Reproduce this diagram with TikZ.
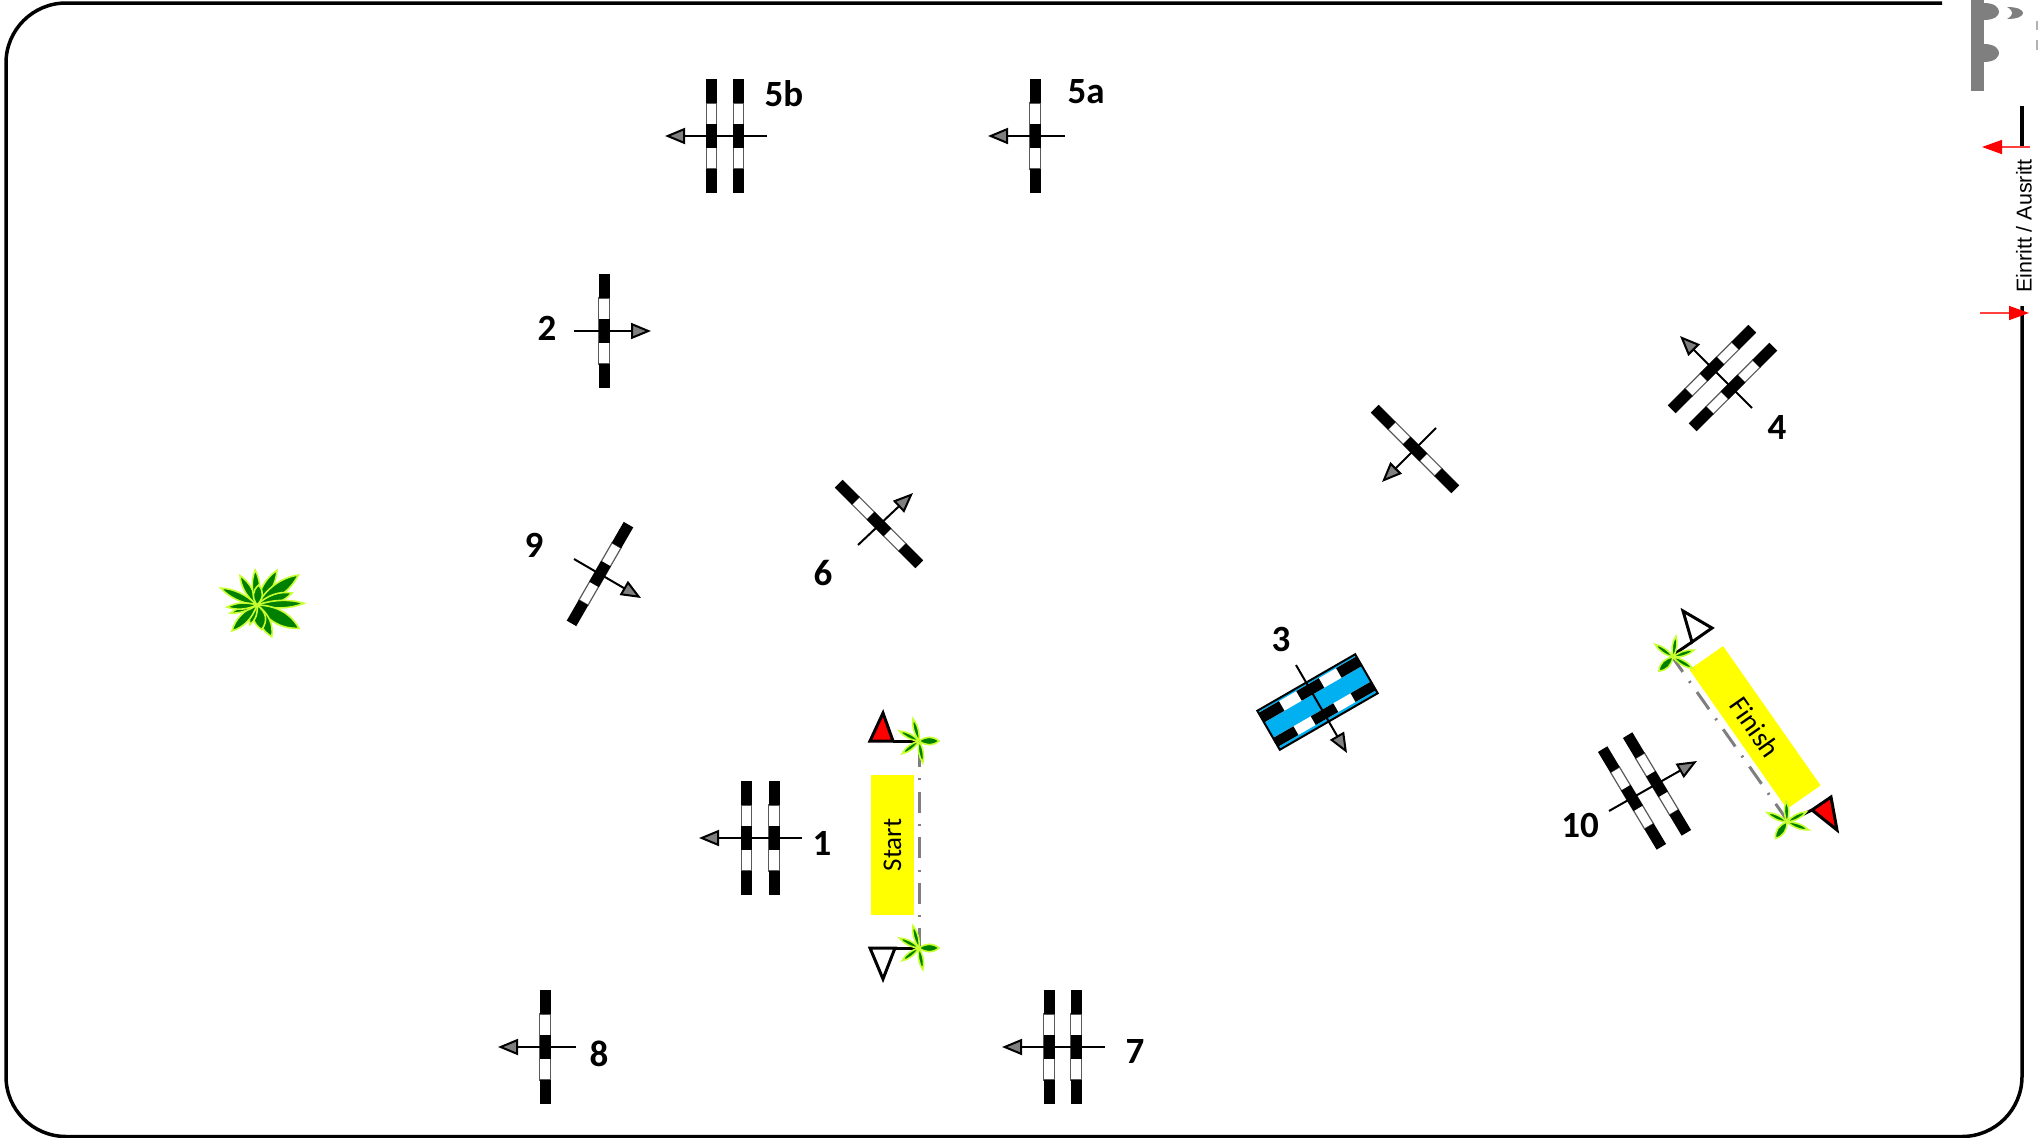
\documentclass[tikz,border=0pt]{standalone}
\usepackage{fontspec}
\setmainfont{Carlito}
\newfontfamily\arialfont{Liberation Sans}
\usetikzlibrary{arrows.meta, positioning, calc}
\definecolor{poolblue}{HTML}{00B0F0}
\definecolor{leafgreen}{HTML}{008000}
\definecolor{leaflime}{HTML}{C8FF30}
\definecolor{marktext}{HTML}{7F7F7F}
\definecolor{bannerfill}{HTML}{FFFF00}
\tikzset{
  pole/.pic={
    \fill[white] (-57,-5.5) rectangle (57,5.5);
    \draw[marktext!70!black, line width=1.2pt] (-33,-5.2) rectangle (33,5.2);
    \foreach \a/\b in {-57/-33, -12/12, 33/57} \fill[black] (\a,-5.5) rectangle (\b,5.5);
  },
  palm/.pic={
    \foreach \ang/\len/\wid in {105/23/3, 153/22/3, 217/21/3, 280/22/3, 0/20/5}
      \draw[leaf, rotate=\ang] (0,0) .. controls (.35*\len,-\wid) and (.7*\len,-\wid) .. (\len,0)
        .. controls (.7*\len,\wid) and (.35*\len,\wid) .. (0,0);
  },
  bush/.pic={
    \foreach \ang/\len/\wid in {155/40/5, 120/34/5, 60/40/6, 36/51/8, 19/37/6, 2/47/5,
      -31/39/3, -29/48/9, -65/35/7, -79/25/8, -110/21/4, -134/36/6, -163/28/3, -176/30/4, 93/35/5, 85/20/6}
      \draw[leaf, rotate=\ang] (0,0) .. controls (.35*\len,-\wid) and (.7*\len,-\wid) .. (\len,0)
        .. controls (.7*\len,\wid) and (.35*\len,\wid) .. (0,0);
  }
}
\begin{document}
\begin{tikzpicture}[x=1pt, y=-1pt]
  % styles
  \tikzstyle{leaf}=[draw=leaflime, fill=leafgreen, line width=1.6pt]
  \tikzstyle{frame}=[line width=3.5pt, black]
  \tikzstyle{jumparrow}=[line width=2pt, -{Triangle[length=20pt, width=16pt, fill=marktext]}]
  \tikzstyle{redarrow}=[line width=1.5pt, red!75, -{Triangle[length=20pt, width=14pt, fill=red, color=red]}]
  \tikzstyle{number}=[font=\fontsize{37}{37}\selectfont\bfseries, inner sep=0pt]
  \tikzstyle{banner}=[fill=bannerfill, align=center, inner sep=0pt]
  \tikzstyle{flag}=[line width=3pt, line join=miter]
  \tikzstyle{gateline}=[marktext, line width=3pt, dash pattern=on 21pt off 11.3pt on 2pt off 11.3pt]
  \useasboundingbox (0,0) rectangle (2038,1138);

  % arena border
  \draw[frame, rounded corners=60pt] (1942,3) -- (6,3) -- (6,1136.5) -- (2022,1136.5) -- (2022,306);
  \draw[frame] (2022,106) -- (2022,147);

  % gate, top right
  \fill[marktext] (1971,0) rectangle (1984,91);
  \fill[marktext] (1984,3) .. controls (1994,3) and (1999,7) .. (1999,12) .. controls (1999,16) and (1994,20) .. (1984,20) -- cycle;
  \fill[marktext] (1984,44) .. controls (1996,44) and (1999,50) .. (1999,53) .. controls (1999,56) and (1996,62) .. (1984,62) -- cycle;
  \fill[marktext] (2007,7) .. controls (2018,7) and (2023,10) .. (2023,13) .. controls (2023,16) and (2018,19) .. (2007,19) .. controls (2014,15) and (2014,11) .. (2007,7) -- cycle;
  \fill[marktext!60] (2036,21) rectangle (2038,30);
  \fill[marktext!60] (2036,40) rectangle (2038,50);

  % entrance
  \coordinate (inTail) at (1980,313);
  \coordinate (inTip) at (2029,313);
  \coordinate (outTail) at (2030,147);
  \coordinate (outTip) at (1982,147);
  \draw[redarrow] (inTail) -- (inTip);
  \draw[redarrow] (outTail) -- (outTip);
  \node (entry) [rotate=90, font=\arialfont\fontsize{21.5}{21.5}\selectfont, inner sep=0pt] at (2024,226) {Einritt / Ausritt};

  % poles
  \pic (pole5bA) [rotate=90] at (711.5,136) {pole};
  \pic (pole5bB) [rotate=90] at (738.5,136) {pole};
  \pic (pole5a) [rotate=90] at (1035,136) {pole};
  \pic (pole2) [rotate=90] at (604,331) {pole};
  \pic (pole1A) [rotate=90] at (746.5,838) {pole};
  \pic (pole1B) [rotate=90] at (774,838) {pole};
  \pic (pole8) [rotate=90] at (545,1047) {pole};
  \pic (pole7A) [rotate=90] at (1049,1047) {pole};
  \pic (pole7B) [rotate=90] at (1076,1047) {pole};
  \pic (pole6) [rotate=-45] at (879,524) {pole};
  \pic (pole9) [rotate=60] at (600,574) {pole};
  \pic (poleX) [rotate=-45] at (1415,449) {pole};
  \pic (pole4A) [rotate=45] at (1712,369) {pole};
  \pic (pole4B) [rotate=45] at (1733,387) {pole};
  \pic (pole10A) [rotate=-59] at (1632,798) {pole};
  \pic (pole10B) [rotate=-59] at (1657,784) {pole};

  % water jump
  \begin{scope}[shift={(1317.5,702)}, rotate=30]
    \fill[poolblue] (-56.5,-22.5) rectangle (56.5,22.5);
    \fill[white] (-56.5,-20) rectangle (56.5,-9);
    \fill[white] (-56.5,9) rectangle (56.5,19);
    \foreach \a/\b in {-56.5/-33, -13/13, 33/56.5} {
      \fill[black] (\a,-20) rectangle (\b,-9);
      \fill[black] (\a,9) rectangle (\b,19);
    }
    \draw[line width=2pt] (-56.5,-22.5) rectangle (56.5,22.5);
  \end{scope}

  % jump directions
  \foreach \id/\tx/\ty/\hx/\hy in {a5b/767/136/665/136, a5a/1065/136/988/136, a2/574/331/651/331,
    a1/802/838/699/838, a8/576/1047/498/1047, a7/1105/1047/1002/1047, a6/858/545/913/493,
    a9/574/559/641/598, aX/1436/428/1382/482, a4/1752/408/1680/336, a10/1609/811/1697/761, a3/1296/665/1347/753} {
    \coordinate (\id Tail) at (\tx,\ty);
    \coordinate (\id Tip) at (\hx,\hy);
    \draw[jumparrow] (\id Tail) -- (\id Tip);
  }

  % numbers
  \node (n5b) [number] at (784,94) {5b};
  \node (n5a) [number] at (1086,92) {5a};
  \node (n2) [number] at (547,328) {2};
  \node (n1) [number] at (822,843) {1};
  \node (n8) [number] at (599,1054) {8};
  \node (n7) [number] at (1135,1051) {7};
  \node (n6) [number] at (823,573) {6};
  \node (n9) [number] at (534,545) {9};
  \node (n4) [number] at (1777,427) {4};
  \node (n10) [number] at (1580,825) {10};
  \node (n3) [number] at (1281,639) {3};

  % start line
  \node (start) [banner, rotate=90, minimum width=140pt, minimum height=43pt, font=\fontsize{27}{27}\selectfont] at (892.5,845) {Start};
  \draw[gateline] (919,746) -- (919,948);
  \draw[flag] (893,741) -- (919,741);
  \draw[flag, fill=red] (883,713) -- (893,741) -- (870,741) -- cycle;
  \draw[flag] (895,948) -- (919,948);
  \draw[flag, fill=white] (883,979) -- (870,948) -- (895,948) -- cycle;
  \pic (palmA) at (919,741) {palm};
  \pic (palmB) at (919,948) {palm};

  % finish line
  \node (finish) [banner, rotate=-55, minimum width=170pt, minimum height=41pt, font=\fontsize{28}{28}\selectfont] at (1755,727.5) {Finish};
  \draw[gateline, dash phase=4pt] (1673,658) -- (1787,820);
  \draw[flag] (1692,642) -- (1673,655);
  \draw[flag, fill=white] (1683,611) -- (1712,628) -- (1692,642) -- cycle;
  \draw[flag] (1812,810) -- (1787,822);
  \draw[flag, fill=red] (1812,810) -- (1831,797) -- (1837,830) -- cycle;
  \pic (palmC) [rotate=225] at (1673,657) {palm};
  \pic (palmD) [rotate=235] at (1787,822) {palm};

  % bush on the left
  \pic (bushA) at (257,605) {bush};
\end{tikzpicture}
\end{document}
